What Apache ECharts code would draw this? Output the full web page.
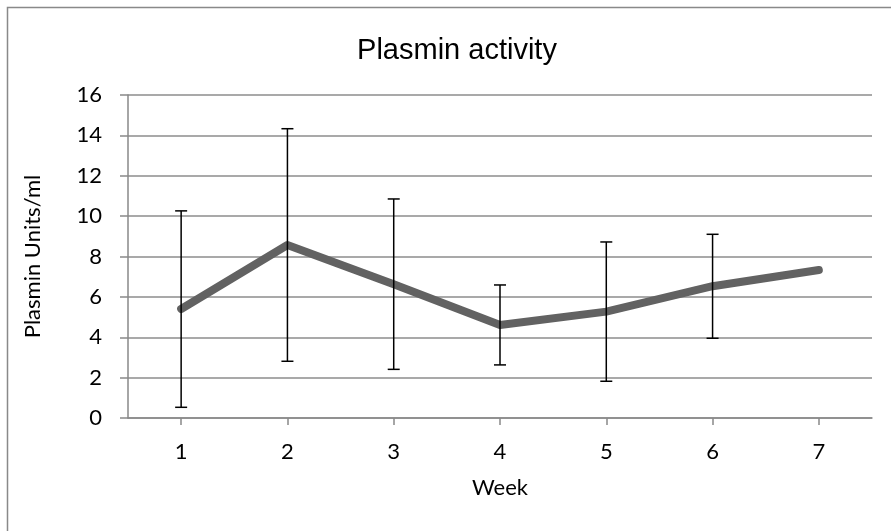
<!DOCTYPE html>
<html>
<head>
<meta charset="utf-8">
<script src="https://cdn.jsdelivr.net/npm/echarts@6/dist/echarts.min.js"></script>
<style>
html,body{margin:0;padding:0;background:#fff;}
#chart{width:891px;height:531px;}
</style>
</head>
<body>
<div id="chart"></div>
<script>
var weeks = ['1', '2', '3', '4', '5', '6', '7'];
var plasmin = [5.40, 8.57, 6.63, 4.61, 5.27, 6.53, 7.33];
var errLow = [0.53, 2.81, 2.41, 2.63, 1.82, 3.95, null];
var errHigh = [10.26, 14.33, 10.85, 6.59, 8.72, 9.10, null];
var yTicks = [0, 2, 4, 6, 8, 10, 12, 14, 16];

var errData = [];
for (var i = 0; i < weeks.length; i++) {
  if (errLow[i] !== null) errData.push([i, errLow[i], errHigh[i]]);
}

var chart = echarts.init(document.getElementById('chart'));
chart.setOption({
  animation: false,
  backgroundColor: '#ffffff',
  graphic: [{
    type: 'rect',
    shape: { x: 7.5, y: 7.5, width: 900, height: 540 },
    style: { fill: 'none', stroke: '#898989', lineWidth: 1.5 },
    z: -10
  }],
  title: {
    text: 'Plasmin activity',
    left: 452,
    top: 31,
    textAlign: 'center',
    textStyle: { fontFamily: 'Liberation Sans', fontSize: 29, fontWeight: 'normal', color: '#000' }
  },
  grid: { left: 128, right: 19, top: 95, bottom: 113, containLabel: false },
  xAxis: {
    type: 'category',
    data: weeks,
    boundaryGap: true,
    name: 'Week',
    nameLocation: 'middle',
    nameGap: 59,
    nameTextStyle: { fontFamily: 'Lato', fontSize: 22, color: '#000' },
    axisLine: { lineStyle: { color: '#898989', width: 1.5 } },
    axisTick: { show: true, alignWithLabel: true, length: 7, lineStyle: { color: '#898989', width: 1.5 } },
    axisLabel: { fontFamily: 'Lato', fontSize: 22, color: '#000', margin: 23 },
    splitLine: { show: false }
  },
  yAxis: {
    type: 'value',
    min: 0,
    max: 16,
    interval: 2,
    name: 'Plasmin Units/ml',
    nameLocation: 'middle',
    nameGap: 84,
    nameRotate: 90,
    nameTextStyle: { fontFamily: 'Lato', fontSize: 22, color: '#000' },
    axisLine: { show: true, lineStyle: { color: '#898989', width: 1.5 } },
    axisTick: { show: true, length: 8, lineStyle: { color: '#898989', width: 1.5 } },
    axisLabel: {
      fontFamily: 'Lato', fontSize: 22, color: '#000', margin: 26,
      formatter: function (v) { return yTicks.indexOf(v) >= 0 ? String(v) : ''; }
    },
    splitLine: { show: true, lineStyle: { color: '#8c8c8c', width: 1.5 } }
  },
  series: [
    {
      type: 'line',
      data: plasmin,
      symbol: 'none',
      lineStyle: { color: '#626262', width: 8, cap: 'round', join: 'round' },
      z: 3
    },
    {
      type: 'custom',
      data: errData,
      encode: { x: 0, y: [1, 2] },
      z: 4,
      renderItem: function (params, api) {
        var idx = api.value(0);
        var lo = api.coord([idx, api.value(1)]);
        var hi = api.coord([idx, api.value(2)]);
        var hw = 6;
        var st = { stroke: '#000', lineWidth: 1.5, fill: 'none' };
        return {
          type: 'group',
          children: [
            { type: 'line', shape: { x1: lo[0], y1: lo[1], x2: hi[0], y2: hi[1] }, style: st },
            { type: 'line', shape: { x1: lo[0] - hw, y1: lo[1], x2: lo[0] + hw, y2: lo[1] }, style: st },
            { type: 'line', shape: { x1: hi[0] - hw, y1: hi[1], x2: hi[0] + hw, y2: hi[1] }, style: st }
          ]
        };
      }
    }
  ]
});
</script>
</body>
</html>
